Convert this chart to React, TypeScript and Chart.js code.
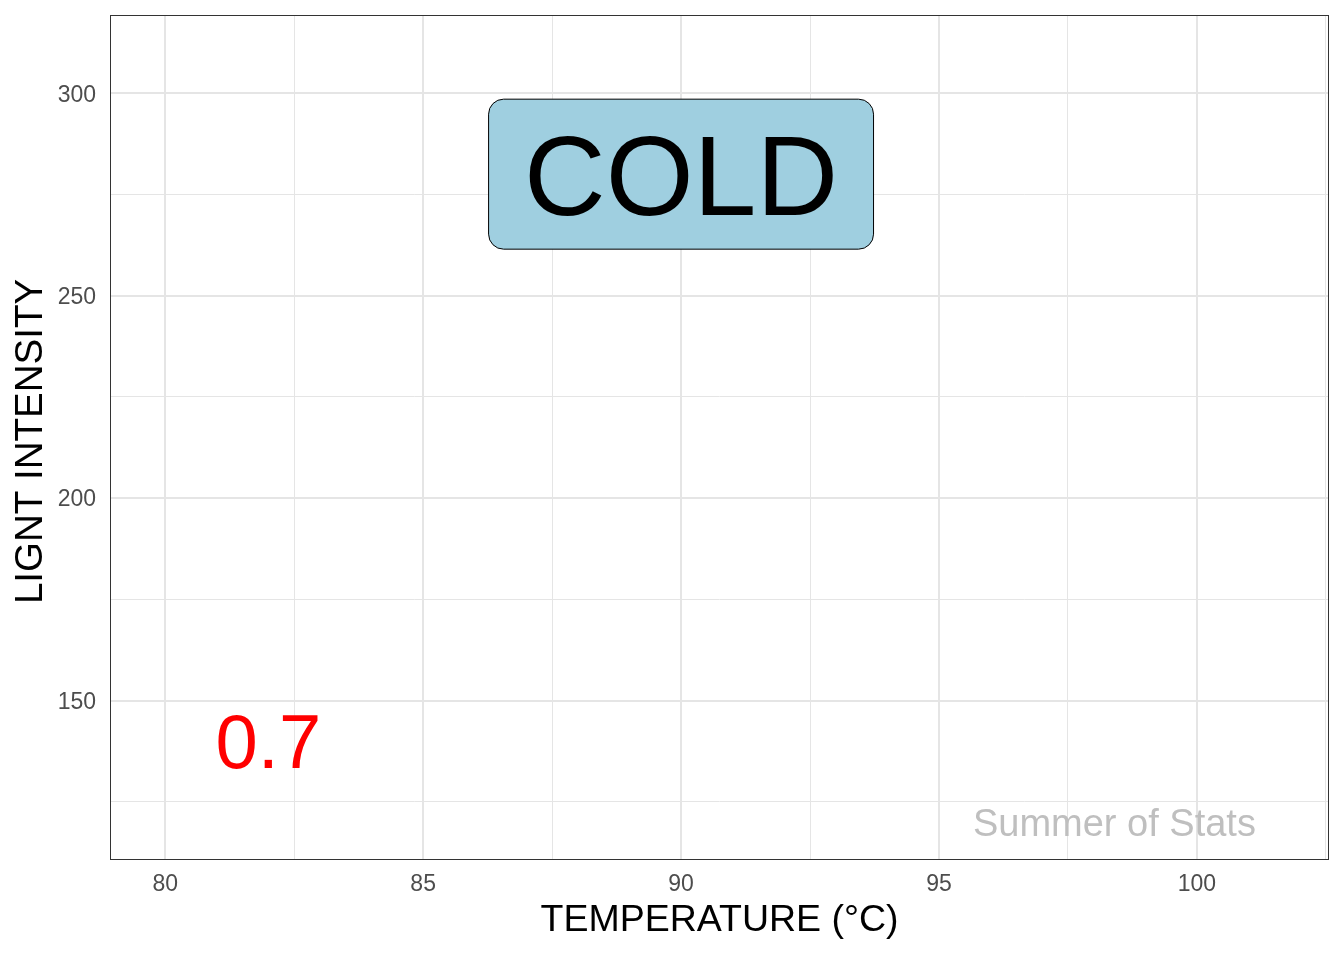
import React, { useEffect, useRef } from "react";
import { Chart, registerables } from "chart.js";

Chart.register(...registerables);

// Axis ranges (data units)
const xRange = [78.93, 102.56];
const yRange = [110.9, 319.3];

// Grid/tick values
const xTickValues = [80, 82.5, 85, 87.5, 90, 92.5, 95, 97.5, 100, 102.5];
const xTickLabels = [80, 85, 90, 95, 100];
const yTickValues = [125, 150, 175, 200, 225, 250, 275, 300];
const yTickLabels = [150, 200, 250, 300];

// Axis titles
const xTitle = "TEMPERATURE (°C)";
const yTitle = "LIGNT INTENSITY";

// Annotations (text placed at data coordinates)
const annotationTexts = ["COLD", "0.7", "Summer of Stats"];
const annotationX = [90, 82, 98.4];
const annotationY = [280, 140, 120];

const FONT = "'Liberation Sans', Arial, Helvetica, sans-serif";

const annotationStyles = [
  { size: 113, color: "#000000", box: true },
  { size: 76, color: "#FF0000", box: false },
  { size: 38, color: "#BFBFBF", box: false },
];

function roundRect(ctx: CanvasRenderingContext2D, x: number, y: number, w: number, h: number, r: number) {
  ctx.beginPath();
  ctx.moveTo(x + r, y);
  ctx.lineTo(x + w - r, y);
  ctx.arcTo(x + w, y, x + w, y + r, r);
  ctx.lineTo(x + w, y + h - r);
  ctx.arcTo(x + w, y + h, x + w - r, y + h, r);
  ctx.lineTo(x + r, y + h);
  ctx.arcTo(x, y + h, x, y + h - r, r);
  ctx.lineTo(x, y + r);
  ctx.arcTo(x, y, x + r, y, r);
  ctx.closePath();
}

const overlayPlugin = {
  id: "overlay",
  afterDatasetsDraw(chart: any) {
    const ctx: CanvasRenderingContext2D = chart.ctx;
    const area = chart.chartArea;
    const meta = chart.getDatasetMeta(0);
    ctx.save();
    meta.data.forEach((pt: any, i: number) => {
      const st = annotationStyles[i];
      const text = annotationTexts[i];
      ctx.font = `${st.size}px ${FONT}`;
      const w = ctx.measureText(text).width;
      const baseline = pt.y + (0.716 * st.size) / 2;
      if (st.box) {
        const bw = w + 71;
        const bh = 150;
        roundRect(ctx, pt.x - bw / 2, pt.y - bh / 2, bw, bh, 15);
        ctx.fillStyle = "#9FCFE0";
        ctx.fill();
        ctx.lineWidth = 1;
        ctx.strokeStyle = "#000000";
        ctx.stroke();
      }
      ctx.fillStyle = st.color;
      ctx.textAlign = "center";
      ctx.textBaseline = "alphabetic";
      ctx.fillText(text, pt.x, baseline);
    });

    // panel border
    ctx.lineWidth = 1;
    ctx.strokeStyle = "#333333";
    ctx.strokeRect(area.left + 0.5, area.top + 0.5, area.right - area.left - 1, area.bottom - area.top);

    // axis titles
    ctx.fillStyle = "#000000";
    ctx.font = `37.5px ${FONT}`;
    ctx.textAlign = "center";
    ctx.textBaseline = "alphabetic";
    ctx.fillText(xTitle, (area.left + area.right) / 2, 931);
    ctx.save();
    ctx.font = `38.5px ${FONT}`;
    ctx.translate(42, (area.top + area.bottom) / 2 + 4.5);
    ctx.rotate(-Math.PI / 2);
    ctx.fillText(yTitle, 0, 0);
    ctx.restore();
    ctx.restore();
  },
};

export default function App() {
  const ref = useRef<HTMLCanvasElement>(null);
  useEffect(() => {
    const canvas = ref.current;
    if (!canvas) return;
    const points = annotationTexts.map((_, i) => ({ x: annotationX[i], y: annotationY[i] }));
    const gridColor = "#E5E5E5";
    const chart = new Chart(canvas, {
      type: "scatter",
      data: {
        datasets: [
          {
            label: "annotations",
            data: points,
            pointRadius: 0,
            pointHoverRadius: 0,
          },
        ],
      },
      options: {
        animation: false,
        responsive: false,
        events: [],
        layout: { padding: { left: 0, top: 15, right: 15, bottom: 0 } },
        plugins: { legend: { display: false }, tooltip: { enabled: false } },
        scales: {
          x: {
            type: "linear",
            min: xRange[0],
            max: xRange[1],
            afterBuildTicks: (scale: any) => {
              scale.ticks = xTickValues.map((v) => ({ value: v }));
            },
            afterFit: (scale: any) => {
              scale.height = 101;
              scale.paddingLeft = 0;
              scale.paddingRight = 0;
            },
            border: { display: false },
            grid: {
              drawTicks: false,
              color: gridColor,
              lineWidth: (c: any) => (xTickLabels.includes(c.tick?.value) ? 2 : 1),
            },
            ticks: {
              padding: 12,
              color: "#4D4D4D",
              font: { family: FONT, size: 23 },
              maxRotation: 0,
              autoSkip: false,
              callback: (v: any) => (xTickLabels.includes(Number(v)) ? String(v) : ""),
            },
          },
          y: {
            type: "linear",
            min: yRange[0],
            max: yRange[1],
            afterBuildTicks: (scale: any) => {
              scale.ticks = yTickValues.map((v) => ({ value: v }));
            },
            afterFit: (scale: any) => {
              scale.width = 110;
              scale.paddingTop = 0;
              scale.paddingBottom = 0;
            },
            border: { display: false },
            grid: {
              drawTicks: false,
              color: gridColor,
              lineWidth: (c: any) => (yTickLabels.includes(c.tick?.value) ? 2 : 1),
            },
            ticks: {
              padding: 14,
              labelOffset: 2,
              color: "#4D4D4D",
              font: { family: FONT, size: 23 },
              autoSkip: false,
              callback: (v: any) => (yTickLabels.includes(Number(v)) ? String(v) : ""),
            },
          },
        },
      },
      plugins: [overlayPlugin],
    });
    return () => chart.destroy();
  }, []);
  return (
    <div style={{ position: "fixed", left: 0, top: 0, width: 1344, height: 960, background: "#fff" }}>
      <canvas ref={ref} width={1344} height={960} style={{ display: "block" }} />
    </div>
  );
}
